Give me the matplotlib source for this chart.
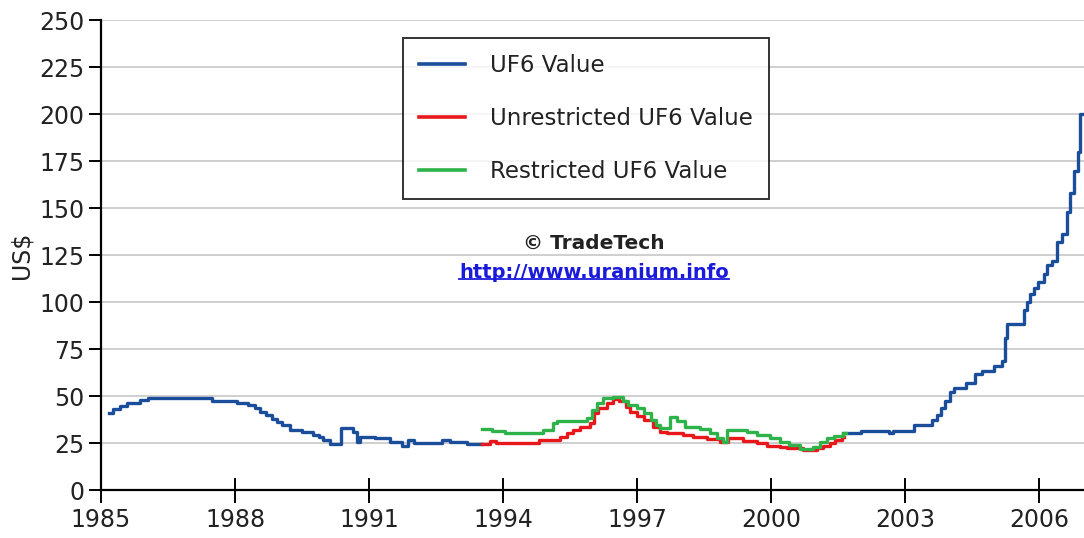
"""UF6 value history (TradeTech), monthly step series 1985-2007."""

import numpy as np
import matplotlib
matplotlib.use("Agg")
import matplotlib.pyplot as plt

plt.rcParams["font.family"] = ["DejaVu Sans"]

# --- data (decimal year, US$), values hold until the next point ----------------
uf6_years = [1985.18, 1985.27, 1985.43, 1985.58, 1985.87, 1986.05, 1987.48, 1988.04,
             1988.29, 1988.45, 1988.56, 1988.70, 1988.82, 1988.93, 1989.04, 1989.23,
             1989.49, 1989.75, 1989.87, 1989.97, 1990.13, 1990.37, 1990.64, 1990.72,
             1990.80, 1991.13, 1991.47, 1991.74, 1991.87, 1992.00, 1992.63, 1992.80,
             1993.20, 1993.52,
             2001.61, 2002.00, 2002.63, 2002.72, 2003.19, 2003.60, 2003.70, 2003.80,
             2003.90, 2004.00, 2004.08, 2004.35, 2004.57, 2004.72, 2004.98, 2005.16,
             2005.24, 2005.28, 2005.65, 2005.72, 2005.80, 2005.87, 2005.98, 2006.10,
             2006.17, 2006.28, 2006.39, 2006.50, 2006.62, 2006.69, 2006.77, 2006.86,
             2006.90, 2007.10]
uf6_values = [41.1, 42.9, 44.7, 46.4, 47.9, 48.9, 47.5, 46.4,
              45.2, 43.5, 41.7, 40.0, 38.0, 36.3, 34.6, 31.9,
              31.0, 29.3, 28.0, 26.6, 24.7, 33.2, 31.0, 25.7,
              28.4, 27.7, 25.7, 23.4, 26.6, 24.8, 26.6, 25.7,
              24.5, np.nan,
              30.2, 31.6, 30.5, 31.6, 34.7, 37.5, 40.0, 43.5,
              47.5, 52.1, 54.3, 56.7, 61.5, 63.5, 66.2, 68.5,
              81.0, 88.5, 96.0, 100.0, 104.5, 107.5, 110.5, 115.0,
              119.5, 122.0, 132.0, 136.0, 148.0, 158.0, 169.5, 180.0,
              200.0, 200.0]

unres_years = [1993.52, 1993.70, 1993.85, 1994.80, 1995.28, 1995.42, 1995.57, 1995.72,
               1995.95, 1996.03, 1996.13, 1996.33, 1996.46, 1996.60, 1996.75, 1996.85,
               1997.00, 1997.15, 1997.36, 1997.51, 1997.67, 1998.03, 1998.25, 1998.57,
               1998.86, 1999.04, 1999.37, 1999.68, 1999.90, 2000.20, 2000.36, 2000.72,
               2001.03, 2001.16, 2001.32, 2001.43, 2001.59, 2001.63]
unres_values = [24.5, 26.2, 25.2, 26.6, 28.4, 30.1, 31.9, 33.7,
                35.5, 40.8, 43.4, 46.1, 48.2, 47.3, 44.3, 41.7,
                39.5, 37.2, 33.7, 31.0, 30.1, 29.3, 28.4, 27.1,
                25.7, 27.5, 26.2, 24.8, 23.4, 22.7, 22.2, 21.3,
                22.2, 23.4, 24.8, 26.6, 28.4, np.nan]

res_years = [1993.52, 1993.75, 1994.05, 1994.90, 1995.12, 1995.20, 1995.88, 1995.99,
             1996.10, 1996.24, 1996.46, 1996.68, 1996.80, 1997.00, 1997.15, 1997.30,
             1997.43, 1997.51, 1997.74, 1997.90, 1998.08, 1998.41, 1998.63, 1998.79,
             1998.92, 1999.01, 1999.46, 1999.68, 1999.98, 2000.20, 2000.40, 2000.65,
             2000.94, 2001.10, 2001.25, 2001.40, 2001.60, 2001.68]
res_values = [32.3, 31.4, 30.1, 31.9, 35.5, 36.9, 38.1, 42.5,
              46.1, 48.9, 49.6, 47.5, 45.2, 43.4, 40.8, 37.2,
              34.6, 32.8, 39.0, 36.9, 33.7, 32.3, 30.1, 27.5,
              25.7, 31.9, 30.7, 29.3, 27.5, 25.7, 23.9, 21.6,
              23.0, 25.7, 27.5, 28.7, 30.1, np.nan]

x_ticks = [1985, 1988, 1991, 1994, 1997, 2000, 2003, 2006]
y_ticks = list(range(0, 251, 25))

BLUE, RED, GREEN = "#1a4e9a", "#e8171c", "#2db34a"
LINK = "#1a1adb"

fig = plt.figure(figsize=(10.84, 5.38), dpi=100)
ax = fig.add_axes([0.0932, 0.0892, 0.9068, 0.8736])

ax.plot(uf6_years, uf6_values, drawstyle="steps-post", color=BLUE, lw=2.4,
        label="UF6 Value", zorder=3)
ax.plot(unres_years, unres_values, drawstyle="steps-post", color=RED, lw=2.4,
        label="Unrestricted UF6 Value", zorder=3)
ax.plot(res_years, res_values, drawstyle="steps-post", color=GREEN, lw=2.4,
        label="Restricted UF6 Value", zorder=4)

ax.set_xlim(1985, 2007)
ax.set_ylim(0, 250)
ax.set_xticks(x_ticks)
ax.set_yticks(y_ticks)
ax.yaxis.grid(True, color="#cfcfcf", lw=1.4)
ax.set_axisbelow(True)

for side in ["top", "right"]:
    ax.spines[side].set_visible(False)
for side in ["left", "bottom"]:
    ax.spines[side].set_linewidth(1.6)
    ax.spines[side].set_color("black")

ax.tick_params(axis="x", direction="inout", length=18, width=1.4, pad=4,
               labelsize=17, colors="black")
ax.tick_params(axis="y", direction="out", length=9, width=1.4, pad=3,
               labelsize=17, colors="black")
for lab in ax.get_xticklabels() + ax.get_yticklabels():
    lab.set_color("#222222")

ax.set_ylabel("US$", fontsize=17, color="#222222", labelpad=4)

leg = ax.legend(loc="upper left", bbox_to_anchor=(0.307, 0.962),
                borderaxespad=0, fontsize=16.5, handlelength=2.0,
                handletextpad=1.1, labelspacing=1.31, borderpad=0.7,
                fancybox=False, frameon=True)
leg.get_frame().set_edgecolor("black")
leg.get_frame().set_linewidth(1.4)
for line in leg.get_lines():
    line.set_linewidth(2.6)
for txt in leg.get_texts():
    txt.set_color("#222222")

ax.text(0.5015, 0.525, "\u00a9 TradeTech", transform=ax.transAxes, ha="center",
        va="center", fontsize=14.5, fontweight="bold", color="#222222")
link = ax.text(0.5015, 0.463, "http://www.uranium.info", transform=ax.transAxes,
               ha="center", va="center", fontsize=14, fontweight="bold",
               color=LINK, url="http://www.uranium.info")

# underline for the link, sized from the rendered text
fig.canvas.draw()
bb = link.get_window_extent().transformed(ax.transAxes.inverted())
ax.plot([bb.x0, bb.x1], [bb.y0 + 0.006, bb.y0 + 0.006], transform=ax.transAxes,
        color=LINK, lw=1.3, clip_on=False)

fig.savefig("out.png", dpi=100)
